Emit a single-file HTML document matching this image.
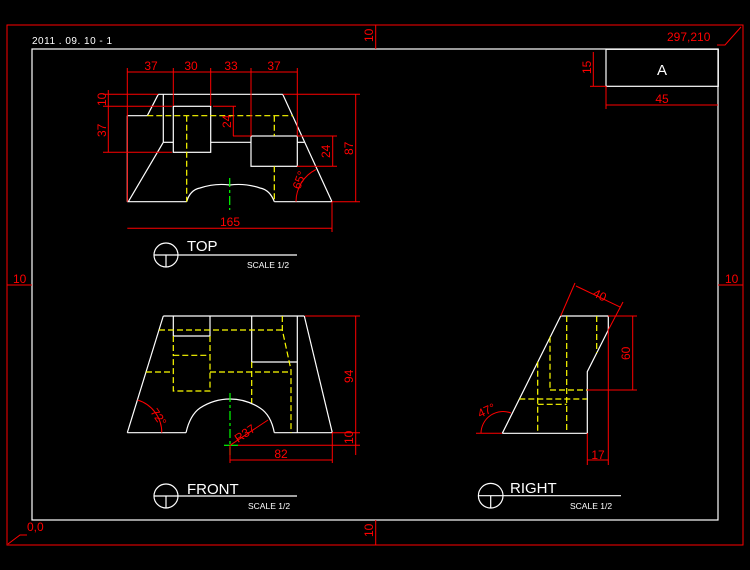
<!DOCTYPE html>
<html><head><meta charset="utf-8"><style>
html,body{margin:0;padding:0;background:#000;width:750px;height:570px;overflow:hidden}
svg{display:block}
text{font-family:"Liberation Sans",sans-serif}
.w{stroke:#fff;stroke-width:1.2;fill:none}
.y{stroke:#ff0;stroke-width:1.2;fill:none;stroke-dasharray:6 3}
.r{stroke:#f00;stroke-width:1;fill:none}
.g{stroke:#0f0;stroke-width:1.2;fill:none;stroke-dasharray:9 3 3 3}
.rt{fill:#f00;font-size:12px}
.wt{fill:#fff}
</style></head><body>
<svg width="750" height="570" viewBox="0 0 750 570" xmlns="http://www.w3.org/2000/svg">
<!-- borders -->
<rect x="7" y="25" width="736" height="520" class="r" stroke-width="1.3"/>
<rect x="32" y="49" width="686" height="471" class="w"/>
<text x="32" y="44" class="wt" font-size="10" letter-spacing="0.5">2011 . 09. 10  - 1</text>
<!-- border dims -->
<line x1="375.7" y1="25" x2="375.7" y2="49" class="r"/>
<text transform="translate(373,42) rotate(-90)" class="rt" font-size="10">10</text>
<line x1="375.7" y1="520" x2="375.7" y2="545" class="r"/>
<text transform="translate(373,537) rotate(-90)" class="rt" font-size="10">10</text>
<line x1="7" y1="285" x2="32" y2="285" class="r"/>
<text x="13" y="283" class="rt" font-size="10">10</text>
<line x1="718" y1="285" x2="743" y2="285" class="r"/>
<text x="725" y="283" class="rt" font-size="10">10</text>
<text x="27" y="531" class="rt" font-size="12">0,0</text>
<polyline points="8,544 20,535 27,535" class="r"/>
<text x="667" y="41" class="rt" font-size="13">297,210</text>
<polyline points="717,45 725,45 741,27" class="r"/>
<!-- title block -->
<rect x="606" y="49.3" width="112.3" height="37" class="w"/>
<text x="662" y="75" class="wt" font-size="15" text-anchor="middle">A</text>
<line x1="593.3" y1="52" x2="593.3" y2="86" class="r"/>
<line x1="590" y1="86.3" x2="606" y2="86.3" class="r"/>
<text transform="translate(591,74) rotate(-90)" class="rt" font-size="10">15</text>
<line x1="606" y1="105" x2="718" y2="105" class="r"/>
<line x1="606" y1="86" x2="606" y2="109" class="r"/>
<text x="662" y="103" class="rt" font-size="11" text-anchor="middle">45</text>

<!-- TOP VIEW -->
<g>
<line x1="158.3" y1="94.3" x2="282.7" y2="94.3" class="w"/>
<line x1="282.7" y1="94.3" x2="332" y2="201.7" class="w"/>
<line x1="127.3" y1="201.7" x2="186.7" y2="201.7" class="w"/>
<line x1="274.3" y1="201.7" x2="332" y2="201.7" class="w"/>
<path d="M186.7,201.7 Q190,190 200,188 Q215,183 229.7,185 Q245,183 260,188 Q270,190 274.3,201.7" class="w"/>
<line x1="127.3" y1="115.7" x2="127.3" y2="201.7" class="w"/>
<line x1="127.3" y1="115.7" x2="147.3" y2="115.7" class="w"/>
<line x1="147.3" y1="115.7" x2="158.3" y2="94.3" class="w"/>
<line x1="128.3" y1="201.7" x2="163.3" y2="142.3" class="w"/>
<line x1="163.3" y1="94.3" x2="163.3" y2="142.3" class="w"/>
<line x1="163.3" y1="142.3" x2="173.3" y2="142.3" class="w"/>
<rect x="173.3" y="106.3" width="37.4" height="46" class="w"/>
<line x1="210.7" y1="142.3" x2="251" y2="142.3" class="w"/>
<rect x="251" y="136" width="46.3" height="30.3" class="w"/>
<line x1="297.3" y1="142.3" x2="304.3" y2="142.3" class="w"/>
<line x1="147.3" y1="115.7" x2="293" y2="115.7" class="y"/>
<line x1="186.7" y1="115.7" x2="186.7" y2="201.7" class="y"/>
<line x1="274.3" y1="115.7" x2="274.3" y2="136" class="y"/>
<line x1="274.3" y1="166.3" x2="274.3" y2="201.7" class="y"/>
<line x1="229.7" y1="178" x2="229.7" y2="210" class="g"/>
<!-- dims -->
<line x1="127.3" y1="72" x2="297.3" y2="72" class="r"/>
<line x1="127.3" y1="68" x2="127.3" y2="201.7" class="r"/>
<line x1="173.3" y1="68" x2="173.3" y2="106" class="r"/>
<line x1="210.7" y1="68" x2="210.7" y2="106" class="r"/>
<line x1="251" y1="68" x2="251" y2="136" class="r"/>
<line x1="297.3" y1="68" x2="297.3" y2="136" class="r"/>
<text x="151" y="70" class="rt" text-anchor="middle">37</text>
<text x="191" y="70" class="rt" text-anchor="middle">30</text>
<text x="231" y="70" class="rt" text-anchor="middle">33</text>
<text x="274" y="70" class="rt" text-anchor="middle">37</text>
<line x1="108.3" y1="90" x2="108.3" y2="152.3" class="r"/>
<line x1="103" y1="94.3" x2="158" y2="94.3" class="r"/>
<line x1="103" y1="106.3" x2="172" y2="106.3" class="r"/>
<line x1="103" y1="152.3" x2="172" y2="152.3" class="r"/>
<text transform="translate(106,106) rotate(-90)" class="rt" font-size="11">10</text>
<text transform="translate(106,137) rotate(-90)" class="rt" font-size="11">37</text>
<line x1="233.3" y1="106" x2="233.3" y2="136" class="r"/>
<line x1="213" y1="106.3" x2="236" y2="106.3" class="r"/>
<line x1="233" y1="136" x2="251" y2="136" class="r"/>
<text transform="translate(231,128) rotate(-90)" class="rt" font-size="11">24</text>
<line x1="332.7" y1="136" x2="332.7" y2="166.3" class="r"/>
<line x1="297" y1="136" x2="337" y2="136" class="r"/>
<line x1="297" y1="166.3" x2="337" y2="166.3" class="r"/>
<text transform="translate(330,158) rotate(-90)" class="rt" font-size="11">24</text>
<line x1="355.7" y1="94.3" x2="355.7" y2="201.7" class="r"/>
<line x1="283" y1="94.3" x2="360" y2="94.3" class="r"/>
<line x1="332" y1="201.7" x2="360" y2="201.7" class="r"/>
<text transform="translate(353,155) rotate(-90)" class="rt" font-size="11">87</text>
<line x1="127.3" y1="228.3" x2="332" y2="228.3" class="r"/>
<line x1="332" y1="201.7" x2="332" y2="232" class="r"/>
<text x="230" y="226" class="rt" text-anchor="middle">165</text>
<path d="M296,201.7 A36,36 0 0 1 316,169.5" class="r"/>
<text transform="translate(300,190) rotate(-70)" class="rt" font-size="10">65°</text>
</g>
<!-- TOP label -->
<circle cx="166" cy="255" r="12" class="w"/>
<line x1="154" y1="255" x2="297" y2="255" class="w"/>
<line x1="166" y1="255" x2="166" y2="267" class="w"/>
<text x="187" y="251" class="wt" font-size="15">TOP</text>
<text x="247" y="268" class="wt" font-size="8.5">SCALE 1/2</text>

<!-- FRONT VIEW -->
<g>
<line x1="163.3" y1="316" x2="304.3" y2="316" class="w"/>
<line x1="163.3" y1="316" x2="127.3" y2="432.7" class="w"/>
<line x1="304.3" y1="316" x2="332.3" y2="432.7" class="w"/>
<line x1="127.3" y1="432.7" x2="186" y2="432.7" class="w"/>
<line x1="274.3" y1="432.7" x2="332.3" y2="432.7" class="w"/>
<path d="M186,432.7 Q190,415 200,408 Q214,399 230,399 Q246,399 260,408 Q271,415 274.3,432.7" class="w"/>
<line x1="173.3" y1="316" x2="173.3" y2="336" class="w"/>
<line x1="210" y1="316" x2="210" y2="336" class="w"/>
<line x1="173.3" y1="336" x2="210" y2="336" class="w"/>
<line x1="251.7" y1="316" x2="251.7" y2="362" class="w"/>
<line x1="251.7" y1="362" x2="297.3" y2="362" class="w"/>
<line x1="297.3" y1="316" x2="297.3" y2="432.7" class="w"/>
<line x1="159" y1="330" x2="282.3" y2="330" class="y"/>
<polyline points="282.3,316 282.3,330 291,370 291,432.7" class="y"/>
<line x1="146" y1="372" x2="173.3" y2="372" class="y"/>
<line x1="210" y1="372" x2="291" y2="372" class="y"/>
<rect x="173.3" y="355.3" width="36.7" height="35.7" class="y"/>
<line x1="173.3" y1="336" x2="173.3" y2="355" class="y"/>
<line x1="210" y1="336" x2="210" y2="355" class="y"/>
<line x1="251.7" y1="362" x2="251.7" y2="403" class="y"/>
<line x1="230" y1="393" x2="230" y2="455" class="g"/>
<line x1="224" y1="445.3" x2="238" y2="445.3" stroke="#0f0" stroke-width="1.2"/>
<line x1="230" y1="445.3" x2="268" y2="420" class="r"/>
<text transform="translate(238,443) rotate(-34)" class="rt" font-size="11">R37</text>
<path d="M137.5,400 A34,34 0 0 1 161.8,432.7" class="r"/>
<text transform="translate(150,412) rotate(55)" class="rt" font-size="10">72°</text>
<line x1="355.7" y1="316" x2="355.7" y2="455" class="r"/>
<line x1="305" y1="316" x2="360" y2="316" class="r"/>
<line x1="332" y1="432.7" x2="360" y2="432.7" class="r"/>
<line x1="238" y1="445.3" x2="360" y2="445.3" class="r"/>
<text transform="translate(353,383) rotate(-90)" class="rt" font-size="11">94</text>
<text transform="translate(353,444) rotate(-90)" class="rt" font-size="10">10</text>
<line x1="230" y1="460" x2="332" y2="460" class="r"/>
<line x1="230" y1="445" x2="230" y2="463" class="r"/>
<line x1="332.3" y1="433" x2="332.3" y2="463" class="r"/>
<text x="281" y="458" class="rt" text-anchor="middle">82</text>
</g>
<!-- FRONT label -->
<circle cx="166" cy="496" r="12" class="w"/>
<line x1="154" y1="496" x2="297" y2="496" class="w"/>
<line x1="166" y1="496" x2="166" y2="508" class="w"/>
<text x="187" y="494" class="wt" font-size="15">FRONT</text>
<text x="248" y="509" class="wt" font-size="8.5">SCALE 1/2</text>

<!-- RIGHT VIEW -->
<g>
<polyline points="502.3,433.3 560.7,316 608.3,316 608.3,330 587.3,371.7 587.3,433.3 502.3,433.3" class="w"/>
<line x1="566.7" y1="316" x2="566.7" y2="433" class="y"/>
<line x1="596.7" y1="316" x2="596.7" y2="353" class="y"/>
<line x1="550" y1="336.7" x2="550" y2="390" class="y"/>
<line x1="550" y1="390" x2="587" y2="390" class="y"/>
<line x1="519.3" y1="399" x2="587" y2="399" class="y"/>
<line x1="537.7" y1="361.7" x2="537.7" y2="433" class="y"/>
<line x1="537.7" y1="404.3" x2="566.7" y2="404.3" class="y"/>
<line x1="576" y1="286" x2="620.7" y2="307.3" class="r"/>
<line x1="560.7" y1="316" x2="575" y2="283" class="r"/>
<line x1="608.3" y1="330" x2="623" y2="302" class="r"/>
<text transform="translate(592,296) rotate(25)" class="rt" font-size="11">40</text>
<line x1="632.7" y1="316" x2="632.7" y2="390" class="r"/>
<line x1="608" y1="316" x2="637" y2="316" class="r"/>
<line x1="587" y1="390" x2="637" y2="390" class="r"/>
<text transform="translate(630,360) rotate(-90)" class="rt" font-size="11">60</text>
<line x1="587.3" y1="460" x2="608.3" y2="460" class="r"/>
<line x1="587.3" y1="433" x2="587.3" y2="465" class="r"/>
<line x1="608.3" y1="330" x2="608.3" y2="465" class="r"/>
<text x="598" y="459" class="rt" font-size="11" text-anchor="middle">17</text>
<line x1="476" y1="433.3" x2="502" y2="433.3" class="r"/>
<path d="M481,433.3 A22,22 0 0 1 511,413" class="r"/>
<text transform="translate(480,418) rotate(-25)" class="rt" font-size="10">47°</text>
</g>
<!-- RIGHT label -->
<circle cx="490.7" cy="495.7" r="12.3" class="w"/>
<line x1="478.4" y1="495.7" x2="621" y2="495.7" class="w"/>
<line x1="490.7" y1="495.7" x2="490.7" y2="508" class="w"/>
<text x="510" y="493" class="wt" font-size="15">RIGHT</text>
<text x="570" y="509" class="wt" font-size="8.5">SCALE 1/2</text>
</svg>
</body></html>
